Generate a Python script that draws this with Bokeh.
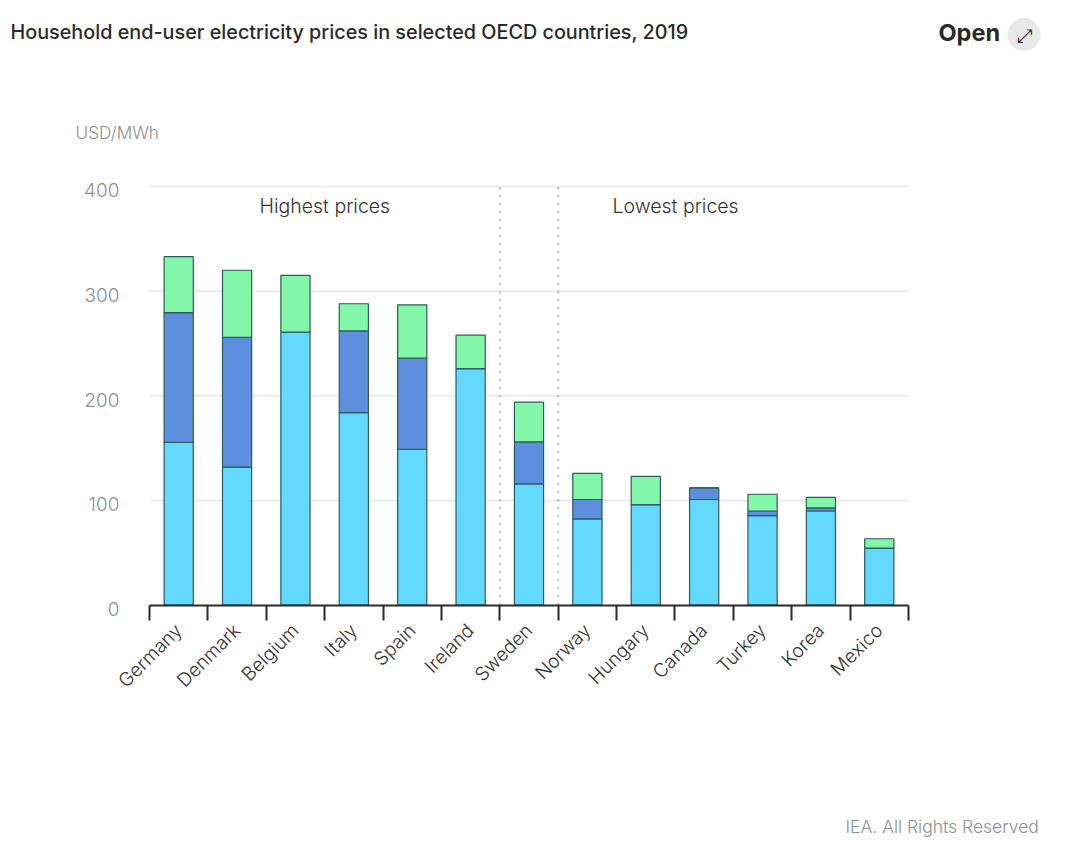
from bokeh.plotting import figure
from bokeh.models import Range1d, FixedTicker, LinearAxis, Label
from bokeh.embed import file_html
from bokeh.resources import INLINE

countries = ["Germany", "Denmark", "Belgium", "Italy", "Spain", "Ireland", "Sweden",
             "Norway", "Hungary", "Canada", "Turkey", "Korea", "Mexico"]
lower = [155.5, 132, 261, 184, 149, 226, 116, 82.5, 96, 101, 85.5, 90, 54.5]
middle = [124, 124, 0, 78, 87, 0, 40, 18.5, 0, 11, 4.5, 3, 0]
upper = [53.5, 64, 54, 26, 51, 32, 38, 25, 27, 0, 16, 10, 9]
y_ticks = [0, 100, 200, 300, 400]
dividers = [6, 7]
FONT = "Inter"
LIGHT = "Inter Light"
NUM = len(countries)
centers = [i + 0.5 for i in range(NUM)]

# The plot area fills the page, so that nothing outside the axes is clipped.
W, H = 1072, 850
X0, X1, Y0, Y400 = 149, 908, 604.7, 186
kx = (X1 - X0) / NUM
ky = (Y0 - Y400) / 400
x_rng = Range1d(-X0 / kx, (W - X0) / kx)
y_start, y_end = -(H - Y0) / ky, Y0 / ky
y_rng = Range1d(y_start, y_end)

p = figure(width=W, height=H, output_backend="svg", toolbar_location=None,
           x_range=x_rng, y_range=y_rng,
           x_axis_location=None, y_axis_location=None,
           min_border_left=0, min_border_right=0, min_border_top=0, min_border_bottom=0,
           background_fill_color="white", border_fill_color="white")
p.outline_line_color = None
p.grid.visible = False

p.segment(x0=[0] * 4, x1=[NUM] * 4, y0=y_ticks[1:], y1=y_ticks[1:],
          line_color="#ececec", line_width=2)

# y labels sit a little below their grid lines, as in the reference
p.extra_y_ranges = {"labels": Range1d(y_start + 3.5, y_end + 3.5)}
yax = LinearAxis(y_range_name="labels", ticker=FixedTicker(ticks=y_ticks), fixed_location=0)
yax.axis_line_color = None
yax.major_tick_line_color = None
yax.minor_tick_line_color = None
yax.major_label_text_font = LIGHT
yax.major_label_text_font_size = "19px"
yax.major_label_text_color = "#8f8f8f"
yax.major_label_standoff = 24
p.add_layout(yax, "left")

xax = LinearAxis(ticker=FixedTicker(ticks=centers, minor_ticks=list(range(NUM + 1))),
                 major_label_overrides={c: n for c, n in zip(centers, countries)},
                 fixed_location=0, bounds=(0, NUM))
xax.axis_line_color = "#2b2b2b"
xax.axis_line_width = 2
xax.major_tick_line_color = None
xax.major_tick_out = 0
xax.major_tick_in = 0
xax.minor_tick_line_color = "#2b2b2b"
xax.minor_tick_line_width = 2
xax.minor_tick_out = 15
xax.minor_tick_in = 0
xax.major_label_orientation = 0.785
xax.major_label_standoff = 7
xax.major_label_text_font = LIGHT
xax.major_label_text_font_size = "19px"
xax.major_label_text_color = "#333333"
p.add_layout(xax, "below")

p.segment(x0=dividers, x1=dividers, y0=[0] * len(dividers), y1=[y_ticks[-1]] * len(dividers),
          line_color="#b9b9b9", line_width=2, line_dash="2 6")

p.vbar_stack(["lower", "middle", "upper"], x="x", width=0.5,
             source=dict(x=centers, lower=lower, middle=middle, upper=upper),
             fill_color=["#63d9ff", "#5c8fdd", "#83f7a8"],
             line_color="#2f5a5f", line_width=1.2)

# badge behind the "open" arrow
p.scatter(x=[(1023.5 - X0) / kx], y=[(Y0 - 34) / ky], size=33, marker="circle",
          fill_color="#e9e9e9", line_color=None)


def txt(s, x, y, size, color, **kw):
    p.add_layout(Label(x=x, y=H - y, x_units="screen", y_units="screen", text=s,
                       text_font=kw.pop("font", LIGHT), text_font_size=size,
                       text_baseline="middle", text_color=color, **kw))


txt("Household end-user electricity prices in selected OECD countries, 2019",
    10, 31, "19.8px", "#2a2a2a", font="Inter Medium")
txt("Open", 938, 32, "23.5px", "#2a2a2a", font=FONT, text_font_style="bold")
txt("USD/MWh", 75, 132, "17.2px", "#8f8f8f")
txt("Highest prices", 259, 205, "19.5px", "#333333")
txt("Lowest prices", 612, 205, "19.5px", "#333333")
txt("IEA. All Rights Reserved", 845, 826, "17.5px", "#8f8f8f")
txt("⤢", 1023.5, 34, "19px", "#2a2a2a", font="DejaVu Sans", text_align="center")

open("out.html", "w").write(file_html(p, INLINE))
